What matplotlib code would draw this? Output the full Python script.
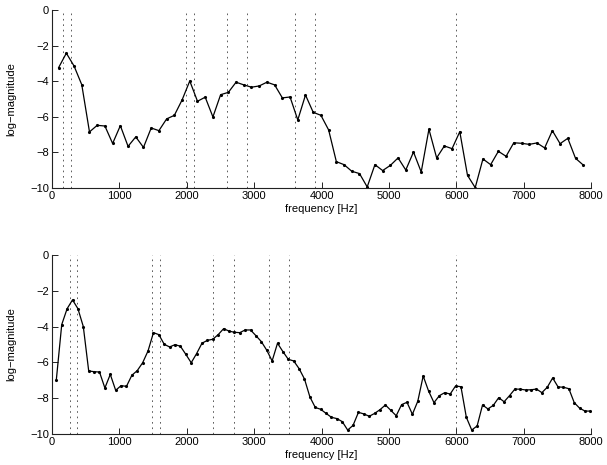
import numpy as np
import matplotlib.pyplot as plt

plt.rcParams['font.family'] = ['Liberation Sans', 'DejaVu Sans']
plt.rcParams['font.size'] = 8

# top panel: spectrum sampled at 69 frequencies
freq_top = np.linspace(98, 7884, 69)
mag_top = [-3.24, -2.43, -3.15, -4.2, -6.85, -6.48, -6.52, -7.5, -6.5, -7.66,
           -7.13, -7.72, -6.63, -6.78, -6.12, -5.92, -5.06, -3.99, -5.13, -4.9,
           -6.01, -4.76, -4.63, -4.06, -4.21, -4.34, -4.27, -4.06, -4.21, -4.94,
           -4.89, -6.18, -4.78, -5.75, -5.92, -6.74, -8.52, -8.69, -9.06, -9.19,
           -9.94, -8.69, -9.02, -8.73, -8.31, -8.99, -7.98, -9.1, -6.7, -8.31,
           -7.64, -7.79, -6.84, -9.29, -9.98, -8.37, -8.69, -7.94, -8.22, -7.46,
           -7.49, -7.55, -7.47, -7.75, -6.78, -7.51, -7.21, -8.33, -8.71]
lines_top = [170, 280, 1990, 2100, 2590, 2890, 3610, 3905, 5990]

# bottom panel: 100 frequencies
freq_bot = np.linspace(64, 7991, 100)
mag_bot = [-6.97, -3.89, -3.0, -2.51, -3.0, -4.0, -6.48, -6.52, -6.54, -7.43,
           -6.67, -7.56, -7.3, -7.34, -6.72, -6.46, -6.02, -5.36, -4.34, -4.45,
           -4.99, -5.14, -5.01, -5.1, -5.55, -6.02, -5.51, -4.93, -4.77, -4.71,
           -4.45, -4.12, -4.25, -4.32, -4.34, -4.19, -4.19, -4.51, -4.84, -5.32,
           -5.92, -4.93, -5.4, -5.83, -5.92, -6.35, -6.93, -7.93, -8.52, -8.62,
           -8.85, -9.07, -9.14, -9.31, -9.78, -9.52, -8.79, -8.88, -9.01, -8.85,
           -8.64, -8.38, -8.68, -8.98, -8.36, -8.23, -8.9, -8.17, -6.76, -7.6,
           -8.25, -7.86, -7.69, -7.77, -7.32, -7.36, -9.07, -9.78, -9.55, -8.38,
           -8.6, -8.4, -7.97, -8.2, -7.86, -7.49, -7.5, -7.54, -7.53, -7.49,
           -7.69, -7.39, -6.87, -7.37, -7.39, -7.47, -8.25, -8.56, -8.72, -8.72]
lines_bot = [262, 373, 1486, 1597, 2395, 2695, 3214, 3510, 5994]

fig = plt.figure(figsize=(6.07, 4.65), dpi=100)
ax1 = fig.add_axes([0.0857, 0.5957, 0.888, 0.383])
ax2 = fig.add_axes([0.0857, 0.0667, 0.888, 0.385])

for ax, f, m, vl in [(ax1, freq_top, mag_top, lines_top),
                     (ax2, freq_bot, mag_bot, lines_bot)]:
    for x in vl:
        ax.axvline(x, color='#444444', lw=0.6, linestyle=(0, (2, 4.5)))
    ax.plot(f, m, color='k', lw=0.9, marker='.', markersize=2.5)
    ax.set_xlim(0, 8000)
    ax.set_ylim(-10, 0)
    ax.set_xticks(np.arange(0, 8001, 1000))
    ax.set_yticks(np.arange(-10, 1, 2))
    ax.spines['top'].set_visible(False)
    ax.spines['right'].set_visible(False)
    for s in ['left', 'bottom']:
        ax.spines[s].set_linewidth(0.8)
        ax.spines[s].set_color('#222222')
    ax.tick_params(direction='in', length=4, width=0.6, labelsize=8, pad=2)
    ax.set_xlabel('frequency [Hz]', fontsize=8, labelpad=2)
    ax.set_ylabel('log\u2212magnitude', fontsize=8, labelpad=10)

plt.savefig('out.png', dpi=100)
